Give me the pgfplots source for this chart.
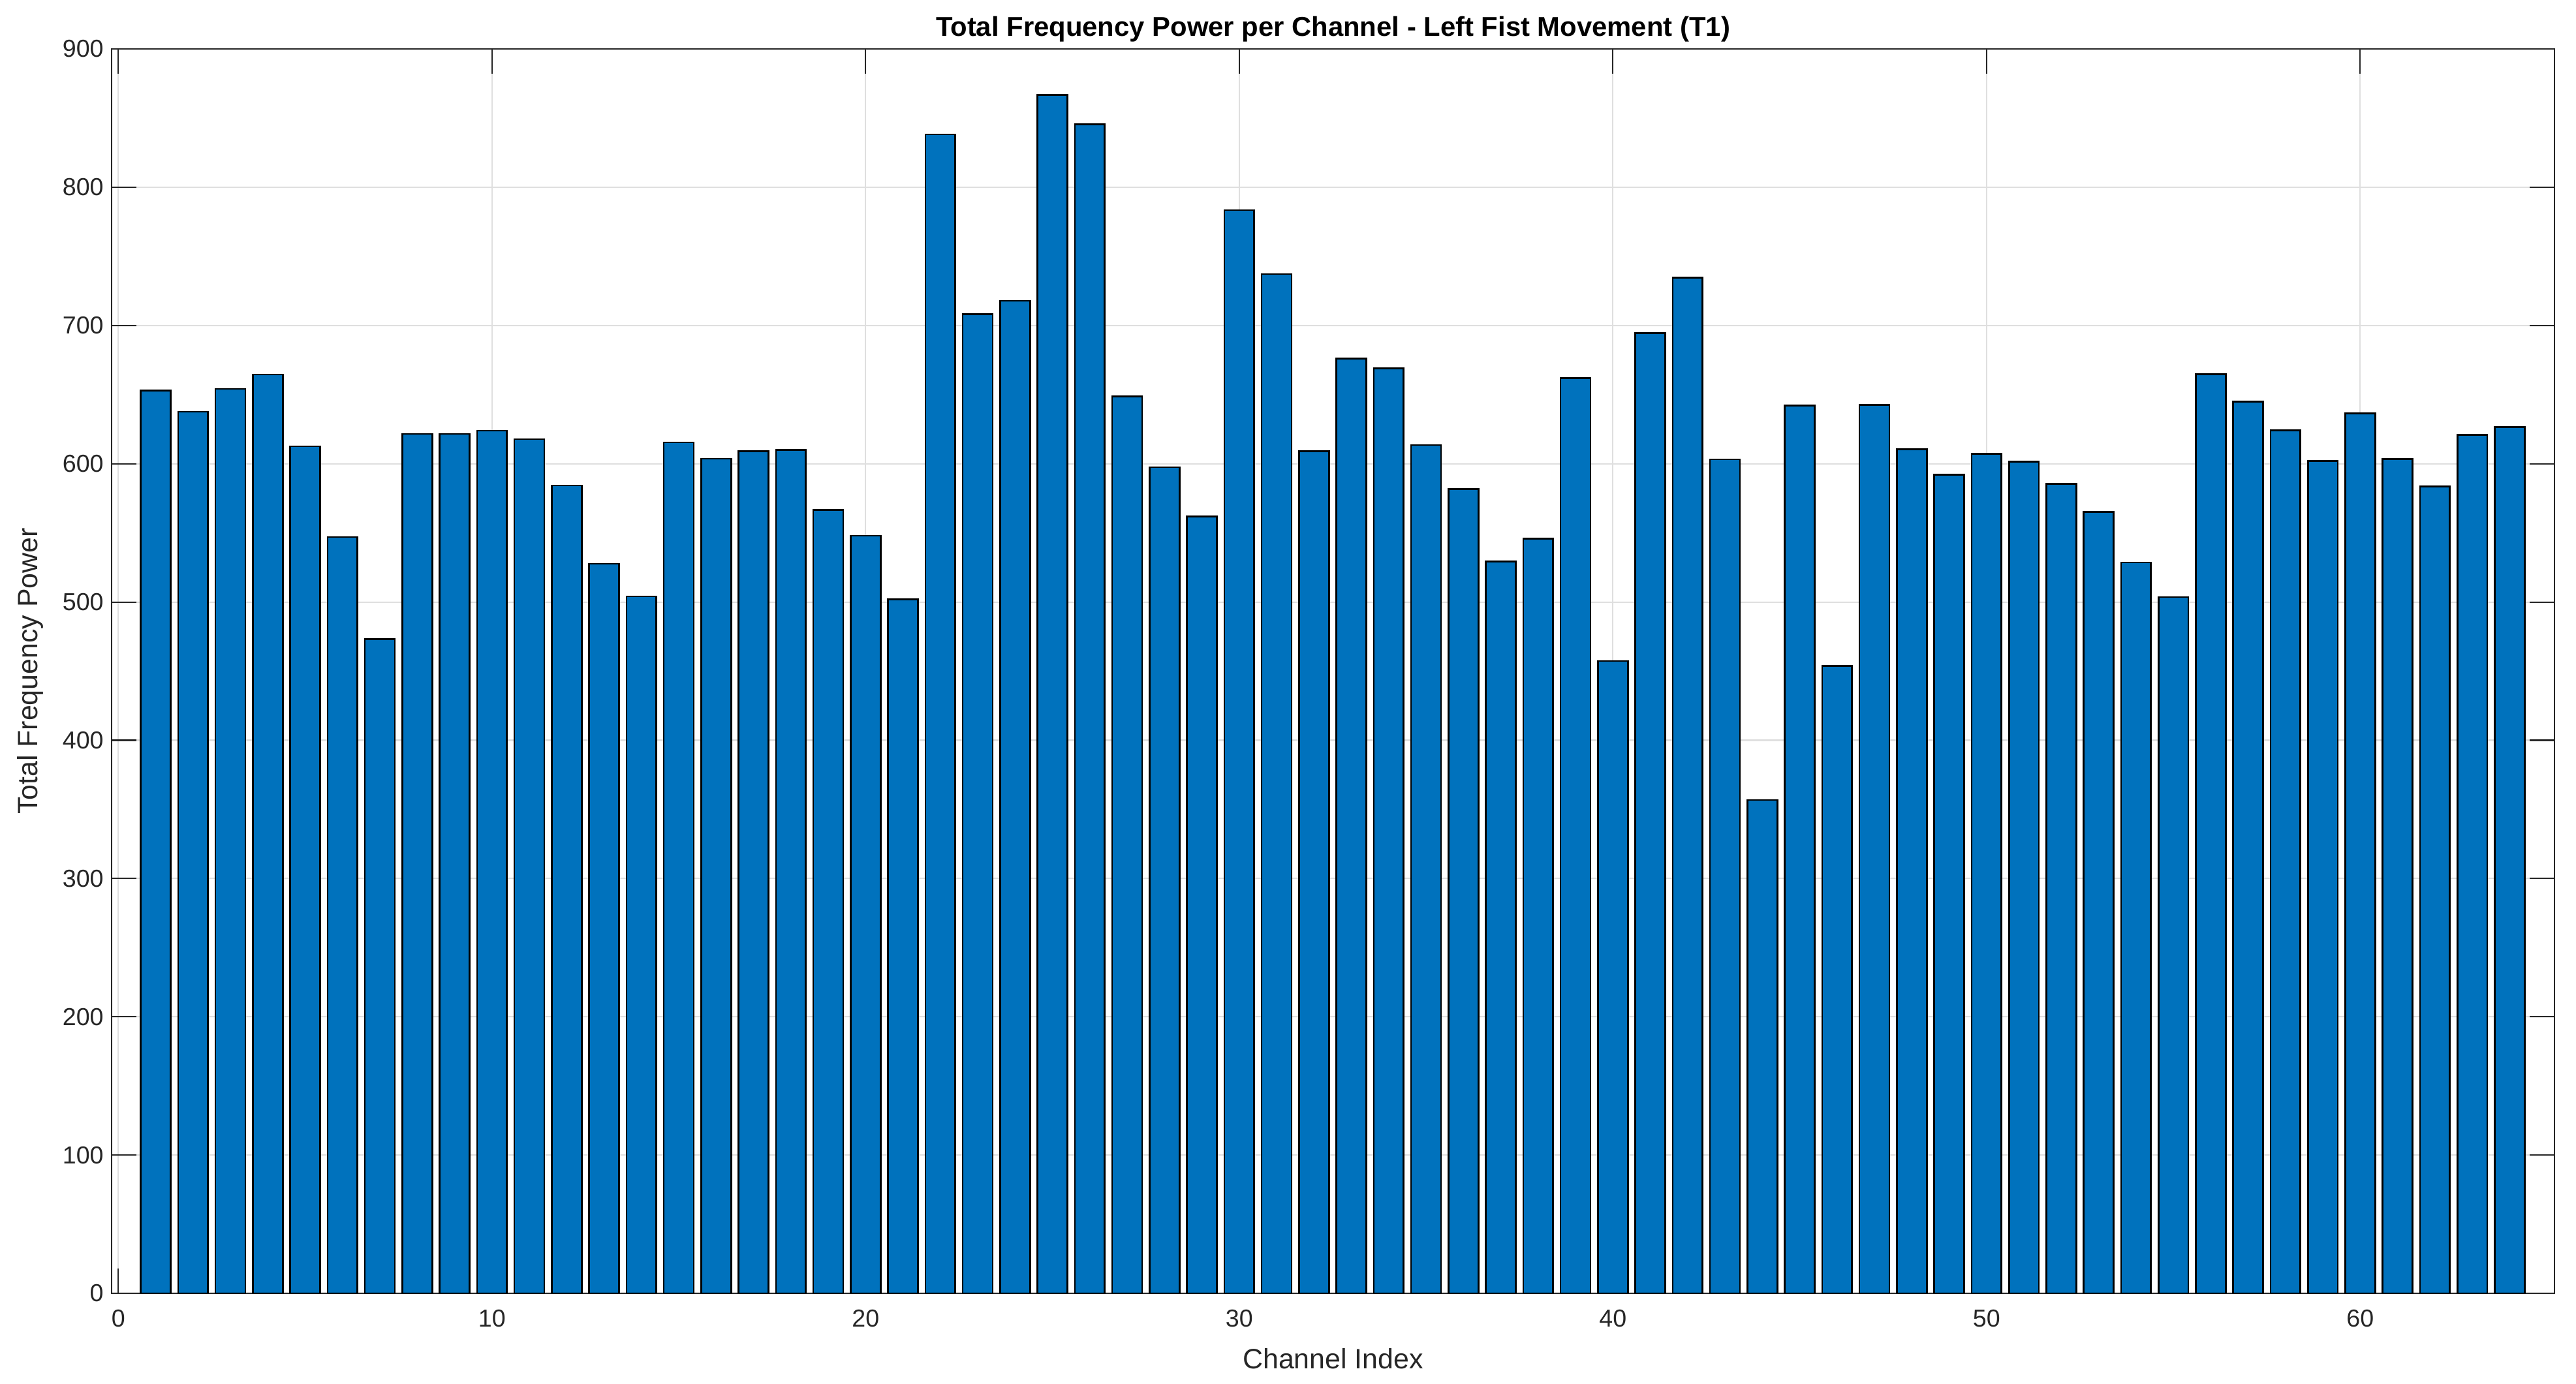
\documentclass[border=0pt]{standalone}
\usepackage{pgfplots}
\pgfplotsset{compat=1.18}
\usepackage{fontspec}
\setmainfont{Liberation Sans}
\usetikzlibrary{calc}
\definecolor{barblue}{HTML}{0072BD}
\definecolor{axgray}{HTML}{262626}
\definecolor{gridgray}{HTML}{DFDFDF}
\pgfplotsset{
  layers/mylayers/.define layer set={axis background,axis grid,pre main,main,axis ticks,axis lines,axis tick labels,axis descriptions,axis foreground}{},
}
\pgfplotstableread{
x y
1 653
2 637.6
3 654.1
4 664.5
5 612.6
6 547
7 473
8 621.5
9 621.5
10 623.9
11 617.8
12 584.3
13 527.7
14 504.1
15 615.4
16 603.6
17 609
18 609.9
19 566.5
20 548
21 501.8
22 838.2
23 708.3
24 717.9
25 866.8
26 845.6
27 648.6
28 597.5
29 562
30 783.5
31 737.1
32 608.9
33 676.2
34 668.9
35 613.6
36 581.7
37 529.4
38 545.9
39 661.8
40 457.4
41 694.4
42 734.6
43 603.2
44 356.8
45 642.1
46 453.9
47 642.6
48 610.6
49 592.1
50 607.1
51 601.6
52 585.5
53 565.3
54 528.5
55 503.5
56 664.8
57 645
58 624.2
59 602
60 636.5
61 603.3
62 583.6
63 620.8
64 626.4
}\datatable
\begin{document}
\begin{tikzpicture}
\begin{axis}[
  set layers=mylayers,
  scale only axis,
  width=37.43cm, height=19.07cm,
  xmin=-0.18, xmax=65.2,
  ymin=0, ymax=900,
  xtick={0,10,...,60},
  ytick={0,100,...,900},
  tick pos=both,
  tick align=inside,
  major tick length=0.38cm,
  every tick/.style={axgray, line width=0.6pt},
  axis line style={axgray, line width=0.6pt},
  grid=major,
  major grid style={gridgray, line width=0.6pt},
  /pgf/number format/assume math mode=true,
  /pgf/number format/1000 sep={},
  tick label style={font=\fontsize{10.7}{12}\selectfont, text=axgray},
  xticklabel style={yshift=-0.13cm},
  yticklabel style={xshift=-0.0cm},
  label style={font=\fontsize{12.2}{14}\selectfont, text=axgray},
  xlabel={Channel Index},
  ylabel={Total Frequency Power},
  xlabel style={yshift=-0.08cm},
  ylabel style={yshift=0.05cm},
  title={Total Frequency Power per Channel - Left Fist Movement (T1)},
  title style={font=\bfseries\fontsize{11.9}{14}\selectfont, yshift=-0.23cm},
]
\addplot[ybar, bar width=0.8, fill=barblue, draw=black, line width=0.75pt] table[x=x,y=y] {\datatable};
\coordinate (bl) at (rel axis cs:0,0);
\coordinate (tr) at (rel axis cs:1,1);
\end{axis}
\pgfresetboundingbox
\path ($(bl)+(-1.71cm,-1.38cm)$) rectangle ($(tr)+(0.33cm,0.75cm)$);
\end{tikzpicture}
\end{document}
